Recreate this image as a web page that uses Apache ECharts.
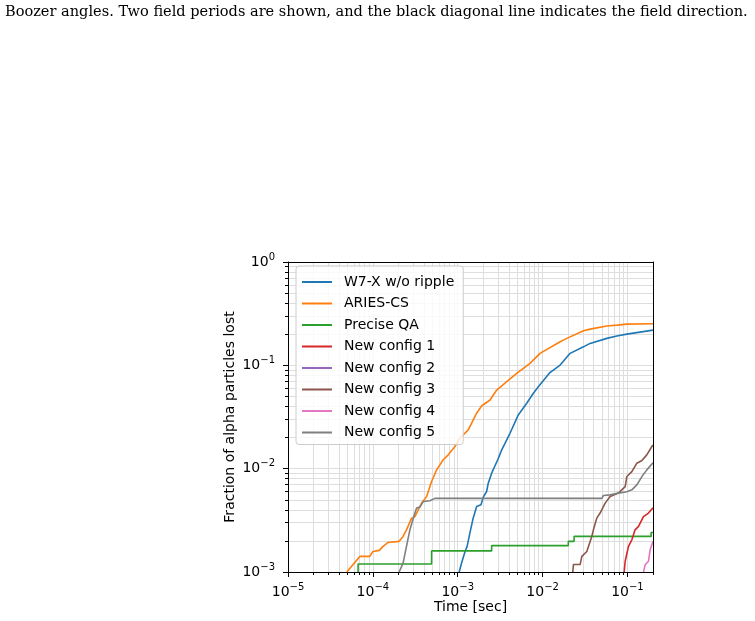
<!DOCTYPE html>
<html>
<head>
<meta charset="utf-8">
<script src="https://cdn.jsdelivr.net/npm/echarts@6/dist/echarts.min.js"></script>
<style>
  html, body { margin: 0; padding: 0; background: #fff; }
  #main { width: 755px; height: 621px; }
</style>
</head>
<body>
<div id="main"></div>
<script>
// caption line above the figure
var captionText = 'Boozer angles. Two field periods are shown, and the black diagonal line indicates the field direction.';

var seriesNames = ['W7-X w/o ripple', 'ARIES-CS', 'Precise QA', 'New config 1',
  'New config 2', 'New config 3', 'New config 4', 'New config 5'];
var seriesColors = ['#1f77b4', '#ff7f0e', '#2ca02c', '#d62728',
  '#9467bd', '#8c564b', '#e377c2', '#7f7f7f'];

// [time (s), fraction lost]
var w7xData = [[1.04e-3, 1.0e-3], [1.11e-3, 1.22e-3], [1.22e-3, 1.58e-3], [1.29e-3, 1.77e-3],
  [1.39e-3, 2.38e-3], [1.52e-3, 3.32e-3], [1.67e-3, 4.30e-3], [1.88e-3, 4.47e-3],
  [2.0e-3, 5.30e-3], [2.19e-3, 6.01e-3], [2.29e-3, 7.24e-3], [2.51e-3, 9.05e-3],
  [2.96e-3, 1.22e-2], [3.30e-3, 1.52e-2], [4.13e-3, 2.20e-2], [5.17e-3, 3.31e-2],
  [6.50e-3, 4.30e-2], [7.78e-3, 5.36e-2], [8.91e-3, 6.21e-2], [1.22e-2, 8.52e-2],
  [1.61e-2, 0.1007], [2.11e-2, 0.1306], [3.03e-2, 0.151], [3.63e-2, 0.163],
  [5.71e-2, 0.1823], [7.50e-2, 0.192], [9.84e-2, 0.2006], [0.2, 0.219]];

var ariesData = [[4.93e-5, 1.0e-3], [7.02e-5, 1.415e-3], [9.2e-5, 1.415e-3], [1.0e-4, 1.58e-3],
  [1.19e-4, 1.62e-3], [1.32e-4, 1.77e-3], [1.51e-4, 1.93e-3], [2.04e-4, 1.98e-3],
  [2.27e-4, 2.21e-3], [2.49e-4, 2.56e-3], [2.86e-4, 3.32e-3], [3.13e-4, 3.44e-3],
  [3.75e-4, 4.64e-3], [4.30e-4, 5.38e-3], [4.92e-4, 7.51e-3], [5.64e-4, 9.73e-3],
  [6.75e-4, 1.22e-2], [7.73e-4, 1.36e-2], [9.27e-4, 1.64e-2], [1.06e-3, 1.97e-2],
  [1.33e-3, 2.37e-2], [1.67e-3, 3.44e-2], [1.91e-3, 4.04e-2], [2.40e-3, 4.62e-2],
  [2.88e-3, 5.77e-2], [3.78e-3, 6.94e-2], [4.95e-3, 8.37e-2], [7.11e-3, 0.1045],
  [9.33e-3, 0.1306], [1.61e-2, 0.169], [1.93e-2, 0.1823], [3.03e-2, 0.216],
  [3.63e-2, 0.224], [5.71e-2, 0.240], [7.50e-2, 0.245], [9.84e-2, 0.2506], [0.2, 0.2523]];

var preciseQaData = [[6.7e-5, 1.0e-3], [6.7e-5, 1.195e-3], [4.92e-4, 1.195e-3], [4.92e-4, 1.60e-3],
  [2.51e-3, 1.60e-3], [2.51e-3, 1.80e-3], [2.01e-2, 1.80e-3], [2.01e-2, 1.98e-3],
  [2.35e-2, 1.98e-3], [2.35e-2, 2.21e-3], [0.19, 2.21e-3], [0.19, 2.41e-3], [0.2, 2.41e-3]];

var config1Data = [[9.15e-2, 1.0e-3], [9.40e-2, 1.27e-3], [0.1028, 1.77e-3], [0.1127, 2.05e-3],
  [0.123, 2.56e-3], [0.135, 2.76e-3], [0.1545, 3.44e-3], [0.177, 3.72e-3], [0.2, 4.18e-3]];

var config2Data = [];

var config3Data = [[2.27e-2, 1.0e-3], [2.31e-2, 1.18e-3], [2.77e-2, 1.18e-3], [2.90e-2, 1.415e-3],
  [3.32e-2, 1.58e-3], [3.80e-2, 2.21e-3], [3.97e-2, 2.56e-3], [4.35e-2, 3.32e-3],
  [4.76e-2, 3.72e-3], [5.46e-2, 4.64e-3], [6.25e-2, 5.38e-3], [7.83e-2, 5.80e-3],
  [9.40e-2, 6.71e-3], [9.84e-2, 8.39e-3], [0.1127, 9.37e-3], [0.129, 1.13e-2],
  [0.148, 1.20e-2], [0.169, 1.36e-2], [0.194, 1.64e-2], [0.2, 1.70e-2]];

var config4Data = [[0.1545, 1.0e-3], [0.162, 1.18e-3], [0.177, 1.27e-3], [0.185, 1.64e-3], [0.2, 1.98e-3]];

var config5Data = [[2.04e-4, 1.0e-3], [2.27e-4, 1.22e-3], [2.49e-4, 1.77e-3], [2.73e-4, 2.56e-3],
  [3.13e-4, 3.72e-3], [3.27e-4, 4.15e-3], [3.58e-4, 4.25e-3], [3.92e-4, 4.81e-3],
  [4.70e-4, 4.89e-3], [5.38e-4, 5.16e-3], [4.99e-2, 5.16e-3], [5.21e-2, 5.50e-3],
  [6.25e-2, 5.58e-3], [7.83e-2, 5.80e-3], [9.84e-2, 5.97e-3], [0.1127, 6.24e-3],
  [0.129, 6.97e-3], [0.148, 8.39e-3], [0.169, 9.73e-3], [0.2, 1.14e-2]];

var allData = [w7xData, ariesData, preciseQaData, config1Data, config2Data, config3Data, config4Data, config5Data];

// axis decades
var xMajorTicks = [1e-5, 1e-4, 1e-3, 1e-2, 1e-1];
var yMajorTicks = [1e-3, 1e-2, 1e-1, 1];

function minorTicks(decades, maxVal) {
  var out = [];
  decades.forEach(function (d) {
    for (var k = 2; k <= 9; k++) {
      var v = k * d;
      if (v <= maxVal * 1.0000001) out.push(v);
    }
  });
  return out;
}
var xMinorTicks = minorTicks(xMajorTicks, 0.2);
var yMinorTicks = minorTicks([1e-3, 1e-2, 1e-1], 1);

var FONT = 'DejaVu Sans';
var gridLine = { show: true, lineStyle: { color: '#dedede', width: 1 } };

function powLabel(v) {
  var e = Math.round(Math.log10(v));
  var s = e < 0 ? '\u2212' + (-e) : String(e);
  return '{b|10}{s|' + s + '}';
}
var powRich = {
  b: { fontFamily: FONT, fontSize: 14, lineHeight: 20, color: '#000' },
  s: { fontFamily: FONT, fontSize: 10, lineHeight: 10, verticalAlign: 'top', color: '#000' }
};

// plain black frame line (top / right spines)
function frameAxis(extra) {
  return Object.assign({
    type: 'log', logBase: 10,
    axisLine: { show: true, lineStyle: { color: '#000', width: 1 } },
    axisTick: { show: false },
    axisLabel: { show: false },
    splitLine: { show: false },
    z: 4
  }, extra);
}

var chart = echarts.init(document.getElementById('main'), null, { renderer: 'canvas' });

var series = seriesNames.map(function (name, i) {
  return {
    name: name,
    type: 'line',
    xAxisIndex: 0,
    yAxisIndex: 0,
    symbol: 'none',
    color: seriesColors[i],
    lineStyle: { width: 1.6, color: seriesColors[i] },
    data: allData[i],
    animation: false
  };
});

var option = {
  animation: false,
  backgroundColor: '#fff',
  graphic: [{
    type: 'text',
    left: 5,
    top: 5,
    style: {
      text: captionText,
      font: '14.55px "DejaVu Serif"',
      fill: '#000'
    }
  }],
  grid: {
    left: 288, right: 102, top: 262, bottom: 49,
    containLabel: false
  },
  legend: {
    orient: 'vertical',
    left: 296, top: 266,
    padding: [9, 9, 5, 5],
    itemWidth: 30, itemHeight: 16, itemGap: 5.4,
    backgroundColor: 'rgba(255,255,255,0.8)',
    borderColor: '#cccccc', borderWidth: 1, borderRadius: 3,
    itemStyle: { opacity: 0 },
    textStyle: { fontFamily: FONT, fontSize: 14, color: '#000', padding: [0, 0, 0, 7] },
    data: seriesNames
  },
  xAxis: [{
    type: 'log', logBase: 10, min: 1e-5, max: 0.2,
    name: 'Time [sec]', nameLocation: 'middle', nameGap: 28,
    nameTextStyle: { fontFamily: FONT, fontSize: 14, color: '#000' },
    axisLine: { show: true, lineStyle: { color: '#000', width: 1 } },
    axisTick: { show: true, length: 5, customValues: xMajorTicks, lineStyle: { color: '#000' } },
    axisLabel: { customValues: xMajorTicks, margin: 10, formatter: powLabel, rich: powRich },
    splitLine: gridLine,
    z: 3
  }, {
    type: 'log', logBase: 10, min: 1e-5, max: 0.2, position: 'bottom',
    axisLine: { show: false },
    axisTick: { show: true, length: 3, customValues: xMinorTicks, lineStyle: { color: '#000' } },
    axisLabel: { show: false },
    splitLine: gridLine
  }, frameAxis({ min: 1e-5, max: 0.2, position: 'top' })],
  yAxis: [{
    type: 'log', logBase: 10, min: 1e-3, max: 1,
    name: 'Fraction of alpha particles lost', nameLocation: 'middle', nameGap: 51,
    nameTextStyle: { fontFamily: FONT, fontSize: 14, color: '#000' },
    axisLine: { show: true, lineStyle: { color: '#000', width: 1 } },
    axisTick: { show: true, length: 5, customValues: yMajorTicks, lineStyle: { color: '#000' } },
    axisLabel: { customValues: yMajorTicks, margin: 13, formatter: powLabel, rich: powRich },
    splitLine: gridLine,
    z: 3
  }, {
    type: 'log', logBase: 10, min: 1e-3, max: 1, position: 'left',
    axisLine: { show: false },
    axisTick: { show: true, length: 3, customValues: yMinorTicks, lineStyle: { color: '#000' } },
    axisLabel: { show: false },
    splitLine: gridLine
  }, frameAxis({ min: 1e-3, max: 1, position: 'right' })],
  series: series
};

option.legend.itemGap = 7.5;

chart.setOption(option);
</script>
</body>
</html>
